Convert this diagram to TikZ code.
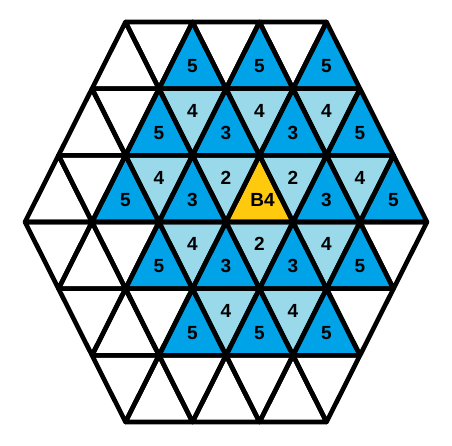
\documentclass[tikz,border=0pt]{standalone}
\usepackage{fontspec}
\setmainfont{Liberation Sans}
\definecolor{dblue}{HTML}{00A2E8}
\definecolor{lblue}{HTML}{99D9EA}
\definecolor{gold}{HTML}{FFC90E}
\newcommand\trigeom[2]{%
  \pgfmathsetmacro\yt{22+66.667*#1}%
  \pgfmathsetmacro\yb{\yt+66.667}%
  \pgfmathsetmacro\cx{(#1<3 ? 25+33.5*(2-#1) : 25+33.5*(#1-3)) + 33.5*(#2+1)}%
  \pgfmathtruncatemacro\up{mod(#2+(#1>2 ? 1 : 0),2)==0 ? 1 : 0}%
}
\newcommand\tricell[5][0]{%
  \trigeom{#2}{#3}%
  \ifnum\up=1
    \fill[#4] (\cx,\yt) -- (\cx-33.5,\yb) -- (\cx+33.5,\yb) -- cycle;
    \pgfmathsetmacro\ly{\yt+44.44}%
  \else
    \fill[#4] (\cx-33.5,\yt) -- (\cx+33.5,\yt) -- (\cx,\yb) -- cycle;
    \pgfmathsetmacro\ly{\yt+22.22}%
  \fi
  \node[lab] (t#2-#3) at (\cx+#1,\ly) {#5};
}
\begin{document}
\begin{tikzpicture}[x=1pt,y=-1pt,
  edge/.style={draw=black,line width=4.6pt,line join=round},
  lab/.style={font=\fontsize{19}{22}\selectfont\bfseries,inner sep=0pt,text=black}]
\fill[white] (0,0) rectangle (452,446);
\useasboundingbox (0,0) rectangle (452,446);
% row 0
\foreach \j in {2,4,6} {\tricell{0}{\j}{dblue}{5}}
% row 1
\foreach \j/\c/\t in {2/dblue/5,3/lblue/4,4/dblue/3,5/lblue/4,6/dblue/3,7/lblue/4,8/dblue/5} {\tricell{1}{\j}{\c}{\t}}
% row 2
\foreach \j/\c/\t in {2/dblue/5,3/lblue/4,4/dblue/3,5/lblue/2,7/lblue/2,8/dblue/3,9/lblue/4,10/dblue/5} {\tricell{2}{\j}{\c}{\t}}
\tricell[3]{2}{6}{gold}{B4}
% row 3
\foreach \j/\c/\t in {3/dblue/5,4/lblue/4,5/dblue/3,6/lblue/2,7/dblue/3,8/lblue/4,9/dblue/5} {\tricell{3}{\j}{\c}{\t}}
% row 4
\foreach \j/\c/\t in {3/dblue/5,4/lblue/4,5/dblue/5,6/lblue/4,7/dblue/5} {\tricell{4}{\j}{\c}{\t}}
% grid
\foreach \r/\n in {0/6,1/8,2/10,3/10,4/8,5/6} {
  \foreach \j in {0,...,\n} {
    \trigeom{\r}{\j}
    \ifnum\up=1
      \path[edge] (\cx,\yt) -- (\cx-33.5,\yb) -- (\cx+33.5,\yb) -- cycle;
    \else
      \path[edge] (\cx-33.5,\yt) -- (\cx+33.5,\yt) -- (\cx,\yb) -- cycle;
    \fi
  }
}
\end{tikzpicture}
\end{document}
